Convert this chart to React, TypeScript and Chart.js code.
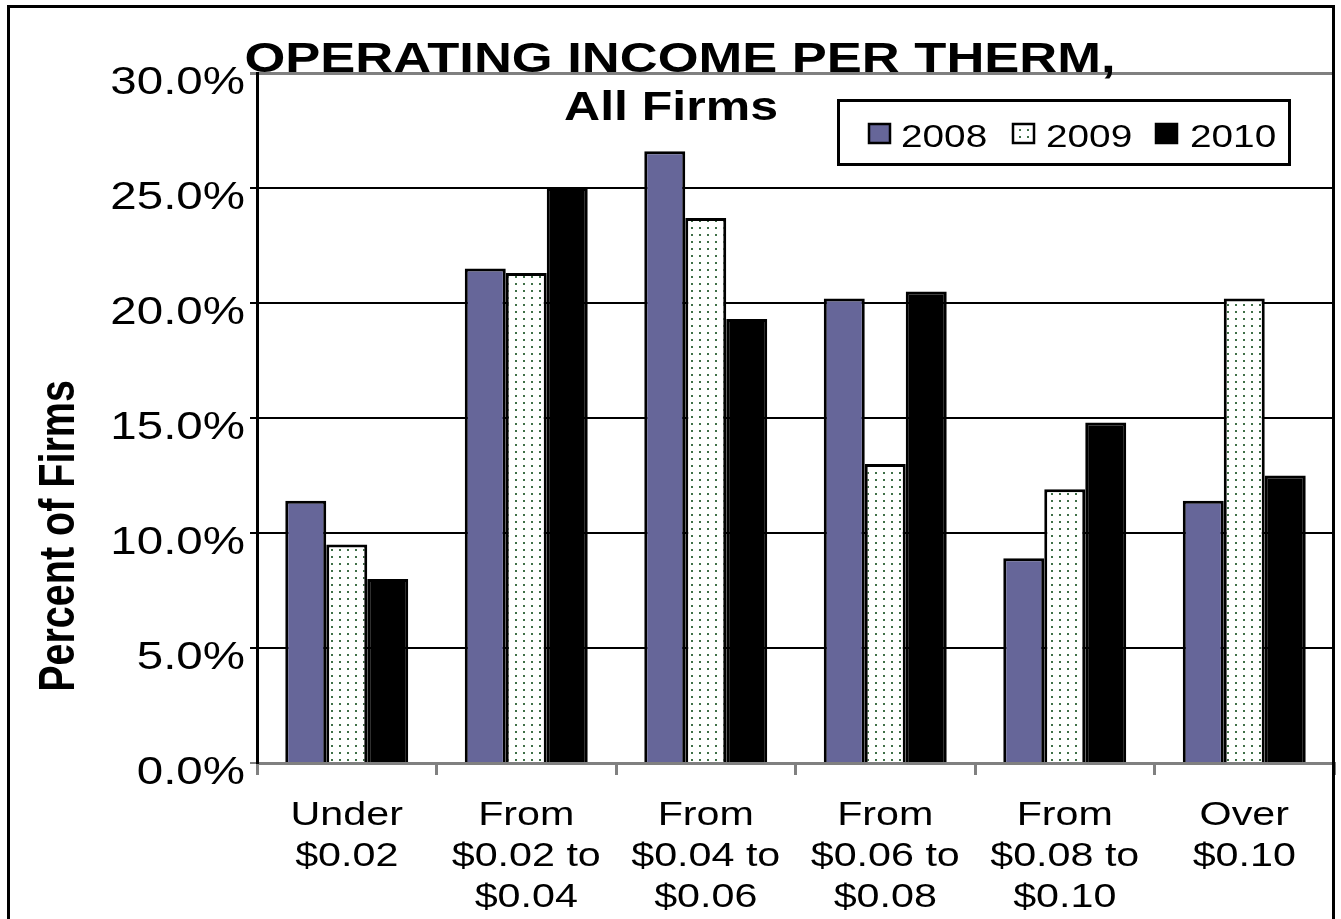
import React, { useEffect, useRef } from "react";
import { Chart, registerables } from "chart.js";

Chart.register(...registerables);

const categories: string[][] = [
  ["Under", "$0.02"],
  ["From", "$0.02 to", "$0.04"],
  ["From", "$0.04 to", "$0.06"],
  ["From", "$0.06 to", "$0.08"],
  ["From", "$0.08 to", "$0.10"],
  ["Over", "$0.10"],
];
const seriesNames = ["2008", "2009", "2010"];
const series2008 = [11.4, 21.5, 26.6, 20.2, 8.9, 11.4];
const series2009 = [9.5, 21.3, 23.7, 13.0, 11.9, 20.2];
const series2010 = [8.0, 25.0, 19.3, 20.5, 14.8, 12.5];
const yTickValues = [0, 5, 10, 15, 20, 25, 30];
const yTickLabels = ["0.0%", "5.0%", "10.0%", "15.0%", "20.0%", "25.0%", "30.0%"];
const titleLines = ["OPERATING INCOME PER THERM,", "All Firms"];
const yTitle = "Percent of Firms";

const FONT = '"Liberation Sans", Arial, Helvetica, sans-serif';
const SX = 1.25;

function makePattern(ctx: CanvasRenderingContext2D): CanvasPattern | string {
  const pc = document.createElement("canvas");
  pc.width = 8;
  pc.height = 7;
  const p = pc.getContext("2d");
  if (!p) return "#fff";
  p.fillStyle = "#ffffff";
  p.fillRect(0, 0, 8, 7);
  p.fillStyle = "#3f6f47";
  p.fillRect(3, 3, 2, 2);
  return ctx.createPattern(pc, "repeat") || "#fff";
}

const overlayPlugin = {
  id: "overlay",
  afterDraw(chart: any) {
    const ctx: CanvasRenderingContext2D = chart.ctx;
    const xs = chart.scales.x;
    const ys = chart.scales.y;
    const stext = (t: string, px: number, py: number, align: CanvasTextAlign, font: string) => {
      ctx.save();
      ctx.translate(px, py);
      ctx.scale(SX, 1);
      ctx.font = font;
      ctx.textAlign = align;
      ctx.textBaseline = "alphabetic";
      ctx.fillStyle = "#000";
      ctx.fillText(t, 0, 0);
      ctx.restore();
    };

    // y tick labels
    yTickValues.forEach((v, i) => {
      stext(yTickLabels[i], ys.right - 12, ys.getPixelForValue(v) + 21, "right", `38px ${FONT}`);
    });

    // x category labels
    categories.forEach((lines, i) => {
      const cx = xs.getPixelForValue(i);
      lines.forEach((ln, j) => {
        stext(ln, cx, xs.top + 62 + j * 41, "center", `33px ${FONT}`);
      });
    });

    // title
    stext(titleLines[0], 680, 72, "center", `bold 42px ${FONT}`);
    stext(titleLines[1], 671, 120, "center", `bold 40px ${FONT}`);

    // y title
    ctx.save();
    ctx.translate(60, 536);
    ctx.scale(SX, 1);
    ctx.rotate(-Math.PI / 2);
    ctx.font = `bold 39.5px ${FONT}`;
    ctx.textAlign = "center";
    ctx.textBaseline = "middle";
    ctx.fillStyle = "#000";
    ctx.fillText(yTitle, 0, 0);
    ctx.restore();

    // legend
    ctx.save();
    ctx.fillStyle = "#fff";
    ctx.fillRect(838, 100, 452, 65);
    ctx.strokeStyle = "#000";
    ctx.lineWidth = 3;
    ctx.strokeRect(838.5, 100.5, 451, 64);
    const markerX = [868, 1012, 1155];
    const textX = [901, 1046, 1190];
    chart.data.datasets.forEach((ds: any, i: number) => {
      ctx.fillStyle = ds.backgroundColor;
      ctx.fillRect(markerX[i], 123, 23, 21);
      ctx.strokeStyle = "#000";
      ctx.lineWidth = 2.5;
      ctx.strokeRect(markerX[i] + 1, 124, 21, 19);
      stext(seriesNames[i], textX[i], 147, "left", `31px ${FONT}`);
    });
    ctx.restore();

    // outer border
    ctx.save();
    ctx.strokeStyle = "#000";
    ctx.lineWidth = 3;
    ctx.strokeRect(8.5, 6.5, 1325, 950);
    ctx.restore();
  },
};

export default function App() {
  const ref = useRef<HTMLCanvasElement | null>(null);

  useEffect(() => {
    const canvas = ref.current;
    if (!canvas) return;
    const ctx = canvas.getContext("2d");
    if (!ctx) return;
    const pattern = makePattern(ctx);

    const chart = new Chart(ctx, {
      type: "bar",
      data: {
        labels: categories,
        datasets: [
          {
            label: seriesNames[0],
            data: series2008,
            backgroundColor: "#666699",
            borderColor: "#000",
            borderWidth: 3,
          },
          {
            label: seriesNames[1],
            data: series2009,
            backgroundColor: pattern as any,
            borderColor: "#000",
            borderWidth: 3,
          },
          {
            label: seriesNames[2],
            data: series2010,
            backgroundColor: "#000000",
            borderColor: "#000",
            borderWidth: 3,
          },
        ],
      },
      options: {
        responsive: false,
        animation: false,
        datasets: {
          bar: { categoryPercentage: 0.685, barPercentage: 1.0 },
        },
        layout: { padding: { top: 73, right: 7, left: 0, bottom: 0 } },
        plugins: {
          legend: { display: false },
          title: { display: false },
          tooltip: { enabled: false },
        },
        scales: {
          x: {
            afterFit: (s: any) => {
              s.height = 156;
            },
            ticks: { display: false },
            grid: {
              drawOnChartArea: false,
              color: "#808080",
              lineWidth: 3,
              tickLength: 12,
              offset: true,
            },
            border: { color: "#808080", width: 3 },
          },
          y: {
            min: 0,
            max: 30,
            afterFit: (s: any) => {
              s.width = 257;
            },
            ticks: { display: false, stepSize: 5 },
            grid: {
              color: (c: any) =>
                c.tick && (c.tick.value === 30 || c.tick.value === 0) ? "#808080" : "#000000",
              lineWidth: (c: any) => (c.tick && c.tick.value === 30 ? 3 : 2),
              tickLength: 7,
            },
            border: { color: "#000", width: 3 },
          },
        },
      },
      plugins: [overlayPlugin],
    });

    return () => chart.destroy();
  }, []);

  return (
    <div style={{ position: "absolute", left: 0, top: 0, width: 1341, height: 919, background: "#fff" }}>
      <canvas ref={ref} width={1341} height={919} style={{ display: "block" }} />
    </div>
  );
}
